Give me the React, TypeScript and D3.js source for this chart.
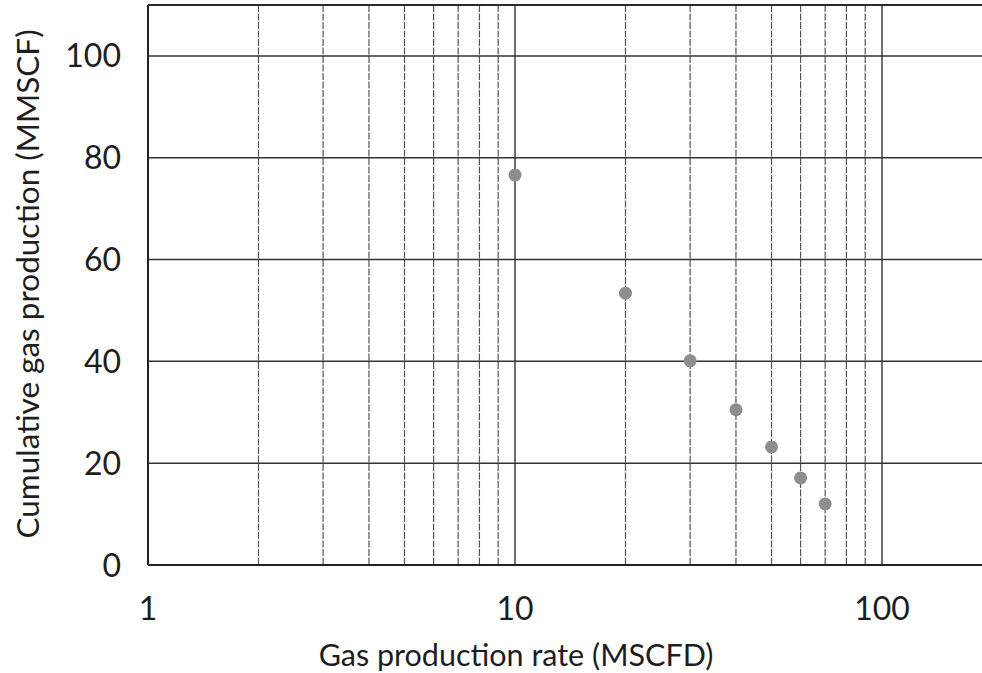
import React from "react";
import * as d3 from "d3";

// Decline data: production rate vs. cumulative production
const rate = [10, 20, 30, 40, 50, 60, 70];
const cumulative = [76.6, 53.4, 40.1, 30.5, 23.2, 17.1, 12.0];

const xTickLabels = [1, 10, 100];
const yTickValues = [0, 20, 40, 60, 80, 100];

const W = 982;
const H = 673;
const left = 148;
const decade = 367;
const bottom = 565;
const top = 5;

export default function App() {
  const x = d3.scaleLog().domain([1, 1000]).range([left, left + 3 * decade]);
  const y = d3.scaleLinear().domain([0, 110]).range([bottom, top]);

  const allX = x.ticks().filter((v) => v > 1 && x(v) <= W + 2);
  const majorX = allX.filter((v) => Math.abs(Math.log10(v) - Math.round(Math.log10(v))) < 1e-9);
  const minorX = allX.filter((v) => !majorX.includes(v));
  const font = "Lato, 'Open Sans', sans-serif";
  const ink = "#1e1e1e";

  return (
    <svg
      width={W}
      height={H}
      style={{ position: "absolute", left: 0, top: 0, background: "#fff" }}
      fontFamily={font}
    >
      {/* minor vertical grid */}
      {minorX.map((v) => (
        <line
          key={"mx" + v}
          x1={x(v)}
          x2={x(v)}
          y1={top}
          y2={bottom}
          stroke="#555"
          strokeWidth={1.2}
          strokeDasharray="7,1.5"
        />
      ))}
      {/* major vertical grid */}
      {majorX.map((v) => (
        <line key={"Mx" + v} x1={x(v)} x2={x(v)} y1={top} y2={bottom} stroke="#333" strokeWidth={1.4} />
      ))}
      {/* horizontal grid */}
      {yTickValues.slice(1).map((v) => (
        <line key={"gy" + v} x1={left} x2={W} y1={y(v)} y2={y(v)} stroke="#333" strokeWidth={1.5} />
      ))}
      {/* plot frame */}
      <line x1={left} x2={W} y1={y(110)} y2={y(110)} stroke="#2a2a2a" strokeWidth={1.8} />
      <line x1={left} x2={W} y1={bottom} y2={bottom} stroke="#222" strokeWidth={2} />
      <line x1={left} x2={left} y1={top} y2={bottom} stroke="#222" strokeWidth={2} />

      {/* points */}
      {rate.map((r, i) => (
        <circle key={"p" + i} cx={x(r)} cy={y(cumulative[i])} r={6.5} fill="#8e8e8e" />
      ))}

      {/* y tick labels */}
      {yTickValues.map((v) => (
        <text key={"ty" + v} x={121} y={y(v)} dy="0.36em" textAnchor="end" fontSize={32} fill={ink}>
          {v}
        </text>
      ))}
      {/* x tick labels */}
      {xTickLabels.map((v) => (
        <text key={"tx" + v} x={x(v)} y={620} textAnchor="middle" fontSize={32} fill={ink}>
          {v}
        </text>
      ))}

      {/* axis titles */}
      <text x={516} y={666} textAnchor="middle" fontSize={30.5} fill={ink}>
        Gas production rate (MSCFD)
      </text>
      <text
        transform={`translate(39, ${284}) rotate(-90)`}
        textAnchor="middle"
        fontSize={31.5}
        fill={ink}
      >
        Cumulative gas production (MMSCF)
      </text>
    </svg>
  );
}
